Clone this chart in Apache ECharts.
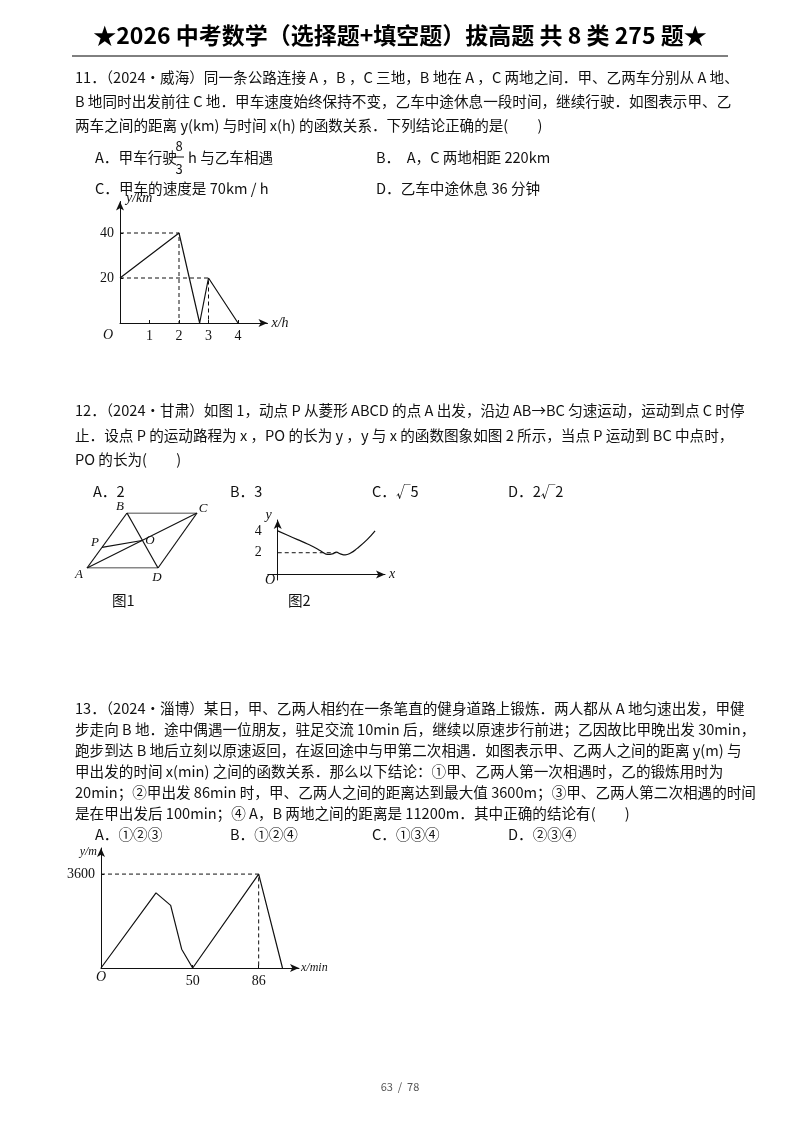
<!DOCTYPE html>
<html><head><meta charset="utf-8">
<script src="https://cdn.jsdelivr.net/npm/echarts@6/dist/echarts.min.js"></script>
<style>html,body{margin:0;padding:0;background:#fff}#c{width:800px;height:1132px}</style>
</head><body><div id="c"></div>
<script>
// ---- data ----
var c1Data = [[0,20],[2,40],[2.7,0],[3,20],[4,0]];
var c1Dash1 = [[0,40],[2,40],[2,0]];
var c1Dash2 = [[0,20],[3,20],[3,0]];
var c1XTicks = [1,2,3,4];
var c1YTicks = [20,40];

var rhombus = {A:[0,0],B:[4,5.5],C:[11,5.5],D:[7.1,0],O:[5.5,2.75],P:[1.5,2.06]};
var rhombusEdges = [['A','B'],['B','C'],['C','D'],['D','A'],['A','C'],['B','D'],['P','O']];

var c2Curve = [[0,4],[1,3.6],[2,3.2],[3,2.8],[4,2.35],[4.6,2.0],[5,1.85],[5.5,1.9],[5.9,2.05],[6.3,1.9],[6.8,1.8],[7.3,1.95],[8,2.4],[9,3.2],[9.8,4]];
var c2Dash = [[0,2],[5.9,2]];
var c2YTicks = [2,4];

var c3Data = [[0,0],[30,2880],[38,2400],[44,720],[50,0],[86,3600],[99,0]];
var c3Dash = [[0,3600],[86,3600],[86,0]];
var c3XTicks = [50,86];
var c3YTicks = [3600];

var FONT = '"Noto Sans CJK SC", "Liberation Serif", serif';
var texts = [
 [75,77,'11．（2024•威海）同一条公路连接 A ，B ，C 三地，B 地在 A ，C 两地之间．甲、乙两车分别从 A 地、'],
 [75,101,'B 地同时出发前往 C 地．甲车速度始终保持不变，乙车中途休息一段时间，继续行驶．如图表示甲、乙'],
 [75,125,'两车之间的距离 y(km) 与时间 x(h) 的函数关系．下列结论正确的是(　　)'],
 [95,157,'A．甲车行驶'],[188,157,'h 与乙车相遇'],
 [376,157,'B．  A，C 两地相距 220km'],
 [95,188,'C．甲车的速度是 70km / h'],
 [376,188,'D．乙车中途休息 36 分钟'],
 [75,410,'12．（2024•甘肃）如图 1，动点 P 从菱形 ABCD 的点 A 出发，沿边 AB→BC 匀速运动，运动到点 C 时停'],
 [75,435,'止．设点 P 的运动路程为 x ，PO 的长为 y ，y 与 x 的函数图象如图 2 所示，当点 P 运动到 BC 中点时，'],
 [75,459,'PO 的长为(　　)'],
 [93,491,'A．2'],[230,491,'B．3'],[372,491,'C．√5'],[508,491,'D．2√2'],
 [112,600,'图1'],[288,600,'图2'],
 [75,708,'13．（2024•淄博）某日，甲、乙两人相约在一条笔直的健身道路上锻炼．两人都从 A 地匀速出发，甲健'],
 [75,729,'步走向 B 地．途中偶遇一位朋友，驻足交流 10min 后，继续以原速步行前进；乙因故比甲晚出发 30min，'],
 [75,750,'跑步到达 B 地后立刻以原速返回，在返回途中与甲第二次相遇．如图表示甲、乙两人之间的距离 y(m) 与'],
 [75,771,'甲出发的时间 x(min) 之间的函数关系．那么以下结论：①甲、乙两人第一次相遇时，乙的锻炼用时为'],
 [75,792,'20min；②甲出发 86min 时，甲、乙两人之间的距离达到最大值 3600m；③甲、乙两人第二次相遇的时间'],
 [75,813,'是在甲出发后 100min；④ A，B 两地之间的距离是 11200m．其中正确的结论有(　　)'],
 [95,834,'A．①②③'],[230,834,'B．①②④'],[372,834,'C．①③④'],[508,834,'D．②③④']
];
var geomLabels = [['A',79,575],['B',120,507],['C',203,509],['D',157,578],['O',150,541],['P',95,543]];

// ---- build ----
var graphic = [];
graphic.push({type:'text',left:'center',top:24,style:{text:'★2026 中考数学（选择题+填空题）拔高题 共 8 类 275 题★',font:'bold 23px '+FONT,fill:'#000'}});
graphic.push({type:'line',shape:{x1:72,y1:56,x2:728,y2:56},style:{stroke:'#000',lineWidth:1}});
texts.forEach(function(t){graphic.push({type:'text',x:t[0],y:t[1],style:{text:t[2],font:'14.6px '+FONT,fill:'#111',verticalAlign:'middle'}});});
graphic.push({type:'text',x:179,y:146,style:{text:'8',font:'13px '+FONT,fill:'#111',verticalAlign:'middle',align:'center'}});
graphic.push({type:'line',shape:{x1:174,y1:157,x2:184,y2:157},style:{stroke:'#111',lineWidth:1}});
graphic.push({type:'text',x:179,y:169,style:{text:'3',font:'13px '+FONT,fill:'#111',verticalAlign:'middle',align:'center'}});
geomLabels.forEach(function(g){graphic.push({type:'text',x:g[1],y:g[2],style:{text:g[0],font:'italic 13px "Liberation Serif", serif',fill:'#111',verticalAlign:'middle',align:'center'}});});
graphic.push({type:'text',x:108,y:335,style:{text:'O',font:'italic 14px "Liberation Serif"',fill:'#111',verticalAlign:'middle',align:'center'}});
graphic.push({type:'text',x:270,y:580,style:{text:'O',font:'italic 14px "Liberation Serif"',fill:'#111',verticalAlign:'middle',align:'center'}});
graphic.push({type:'text',x:101,y:977,style:{text:'O',font:'italic 14px "Liberation Serif"',fill:'#111',verticalAlign:'middle',align:'center'}});
graphic.push({type:'text',left:'center',top:1081,style:{text:'63  /  78',font:'11px '+FONT,fill:'#555'}});

function axisCommon(name, ticks){
  return {type:'value', name:name, nameLocation:'end',
    nameTextStyle:{fontStyle:'italic',fontFamily:'Liberation Serif',fontSize:14,color:'#111'},
    axisLine:{show:true,onZero:false,symbol:['none','arrow'],symbolSize:[6,9],lineStyle:{color:'#111',width:1}},
    axisTick:{show:true,customValues:ticks,inside:true,length:3,lineStyle:{color:'#111'}},
    axisLabel:{customValues:ticks,color:'#111',fontFamily:'Liberation Serif',fontSize:14,margin:6,formatter:function(v){return String(v);}},
    splitLine:{show:false}};
}
var hidden = {type:'value',show:false};

var grids = [
  {left:120,top:201.5,width:147.5,height:121.5},
  {left:87,top:513,width:110,height:55},
  {left:267.8,top:520,width:117.2,height:60},
  {left:101,top:848,width:198,height:120}
];
var xAxes = [
  Object.assign(axisCommon('x/h',c1XTicks),{gridIndex:0,min:0,max:5,nameGap:4}),
  Object.assign({},hidden,{gridIndex:1,min:0,max:11}),
  Object.assign(axisCommon('x',[]),{gridIndex:2,min:-1,max:10.8,nameGap:4}),
  Object.assign(axisCommon('x/min',c3XTicks),{gridIndex:3,min:0,max:108,nameGap:2})
];
var yAxes = [
  Object.assign(axisCommon('y/km',c1YTicks),{gridIndex:0,min:0,max:54,nameGap:-4}),
  Object.assign({},hidden,{gridIndex:1,min:0,max:5.5}),
  Object.assign(axisCommon('y',c2YTicks),{gridIndex:2,min:-0.5,max:5,nameGap:-2}),
  Object.assign(axisCommon('y/m',c3YTicks),{gridIndex:3,min:0,max:4600,nameGap:-10})
];
yAxes[0].nameTextStyle = Object.assign({},yAxes[0].nameTextStyle,{align:'left',padding:[0,0,0,6]});
yAxes[2].nameTextStyle = Object.assign({},yAxes[2].nameTextStyle,{align:'right',padding:[0,6,0,0]});
yAxes[3].nameTextStyle = Object.assign({},yAxes[3].nameTextStyle,{align:'right',padding:[0,4,0,0],fontSize:12});
xAxes[3].nameTextStyle = Object.assign({},xAxes[3].nameTextStyle,{fontSize:12});
xAxes[2].axisLine.onZero = true;
yAxes[2].axisLine.onZero = true;
xAxes[2].axisTick.show=false; yAxes[2].axisTick.show=false;

function ln(gi,data,dashed,smooth){
  return {type:'line',xAxisIndex:gi,yAxisIndex:gi,data:data,symbol:'none',smooth:!!smooth,silent:true,
    lineStyle:{color:'#111',width:dashed?1:1.2,type:dashed?[4,3]:'solid'},z:dashed?2:3};
}
var series = [
  ln(0,c1Data),ln(0,c1Dash1,true),ln(0,c1Dash2,true),
  ln(2,c2Curve,false,0.4),ln(2,c2Dash,true),
  ln(3,c3Data),ln(3,c3Dash,true)
];
rhombusEdges.forEach(function(e){series.push(ln(1,[rhombus[e[0]],rhombus[e[1]]]));});

var chart = echarts.init(document.getElementById('c'));
chart.setOption({backgroundColor:'#fff',animation:false,grid:grids,xAxis:xAxes,yAxis:yAxes,series:series,graphic:graphic});
</script></body></html>
